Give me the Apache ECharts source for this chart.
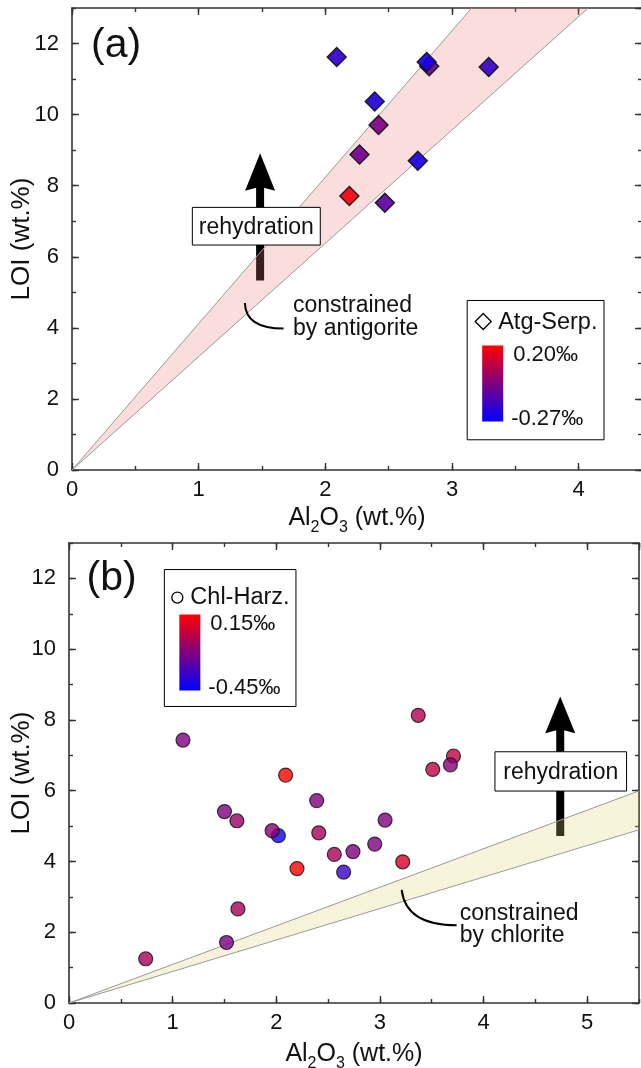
<!DOCTYPE html>
<html>
<head>
<meta charset="utf-8">
<script src="https://cdn.jsdelivr.net/npm/echarts@6/dist/echarts.min.js"></script>
<style>
html, body { margin: 0; padding: 0; background: #fff; }
#main { width: 641px; height: 1068px; }
</style>
</head>
<body>
<div id="main"></div>
<script>
var FONT = '"Liberation Sans", Arial, sans-serif';
var AXIS_COLOR = '#333';
var TEXT_COLOR = '#111';

// (a) Atg-serpentinites: Al2O3, LOI, delta (permil)
var atgAl = [2.09, 2.82, 2.80, 3.29, 2.39, 2.42, 2.27, 2.73, 2.19, 2.47];
var atgLoi = [11.62, 11.36, 11.48, 11.34, 10.37, 9.71, 8.88, 8.70, 7.71, 7.52];
var atgDelta = [-0.18, -0.08, -0.23, -0.17, -0.21, -0.04, -0.06, -0.22, 0.18, -0.10];

// (b) Chl-harzburgites
var chlAl = [0.74, 1.52, 1.63, 1.10, 3.37, 3.71, 3.68, 3.51, 2.09, 2.39, 1.50, 1.62, 3.05, 2.02, 1.96, 2.41, 2.95, 2.56, 2.74, 3.22, 2.20, 2.65];
var chlLoi = [1.25, 1.71, 2.66, 7.43, 8.13, 6.98, 6.73, 6.60, 6.44, 5.72, 5.41, 5.15, 5.17, 4.73, 4.87, 4.81, 4.49, 4.20, 4.28, 3.99, 3.80, 3.70];
var chlDelta = [-0.06, -0.16, -0.06, -0.15, -0.03, 0.0, -0.14, 0.0, 0.15, -0.15, -0.15, -0.09, -0.15, -0.42, -0.12, -0.06, -0.15, -0.05, -0.15, 0.06, 0.15, -0.32];

// colour scale ends (legend labels)
var atgRange = [-0.27, 0.20];
var chlRange = [-0.45, 0.15];
var atgRangeLabels = ['0.20‰', '-0.27‰'];
var chlRangeLabels = ['0.15‰', '-0.45‰'];

// mineral constraint lines (LOI / Al2O3 slopes)
var antigoriteSlopes = [4.12, 3.19];
var chloriteSlopes = [1.09, 0.89];

// axis ticks
var xTicksA = [0, 1, 2, 3, 4];
var xTicksB = [0, 1, 2, 3, 4, 5];
var yTicks = [0, 2, 4, 6, 8, 10, 12];
var xMaxA = 4.5, xMaxB = 5.5, yMax = 13;

var LOW_COLOR = '#0000ff', HIGH_COLOR = '#ff0000';

var chart = echarts.init(document.getElementById('main'));

function zip(a, b, c) {
    var out = [];
    for (var i = 0; i < a.length; i++) {
        out.push([a[i], b[i], c[i]]);
    }
    return out;
}

function axis(gi, pos, max, step, len, labels, line) {
    return {
        type: 'value', gridIndex: gi, position: pos, offset: 0,
        min: 0, max: max, interval: step,
        nameMoveOverlap: false,
        axisLine: {show: line, onZero: false, lineStyle: {color: AXIS_COLOR, width: 1.6}},
        axisTick: {show: true, inside: true, length: len, lineStyle: {color: AXIS_COLOR, width: 1.4}},
        axisLabel: {
            show: labels, fontSize: 22, color: TEXT_COLOR, fontFamily: FONT,
            margin: (pos === 'left' ? 13 : 9), showMaxLabel: false, showMinLabel: true
        },
        splitLine: {show: false}
    };
}

var alName = '{n|Al}{s|2}{n|O}{s|3}{n| (wt.%)}';
var alNameStyle = {
    rich: {
        n: {fontSize: 25, fontFamily: FONT, color: TEXT_COLOR, verticalAlign: 'top', lineHeight: 27},
        s: {fontSize: 16, fontFamily: FONT, color: TEXT_COLOR, verticalAlign: 'top', lineHeight: 16, padding: [14, 0, 0, 0]}
    }
};

// 4 x axes and 4 y axes per grid: major + minor on each side
function xAxes(gi, max, ticks, gap) {
    var step = ticks[1] - ticks[0];
    var bottom = axis(gi, 'bottom', max, step, 7, true, true);
    bottom.name = alName;
    bottom.nameLocation = 'middle';
    bottom.nameGap = gap;
    bottom.nameTextStyle = alNameStyle;
    return [
        bottom,
        axis(gi, 'bottom', max, step / 2, 4, false, false),
        axis(gi, 'top', max, step, 7, false, true),
        axis(gi, 'top', max, step / 2, 4, false, false)
    ];
}

function yAxes(gi, gap) {
    var step = yTicks[1] - yTicks[0];
    var left = axis(gi, 'left', yMax, step, 7, true, true);
    left.name = 'LOI (wt.%)';
    left.nameLocation = 'middle';
    left.nameGap = gap;
    left.nameTextStyle = {fontSize: 26, fontFamily: FONT, color: TEXT_COLOR};
    return [
        left,
        axis(gi, 'left', yMax, step / 2, 4, false, false),
        axis(gi, 'right', yMax, step, 7, false, true),
        axis(gi, 'right', yMax, step / 2, 4, false, false)
    ];
}

function band(gi, slopes, xMax, fill) {
    function edge(s) {
        return s * xMax > yMax ? [yMax / s, yMax] : [xMax, s * xMax];
    }
    var hi = edge(slopes[0]), lo = edge(slopes[1]);
    var poly = [[0, 0], hi];
    if (hi[1] === yMax && lo[0] === xMax) {
        poly.push([xMax, yMax]);
    }
    poly.push(lo);
    return {
        type: 'custom', xAxisIndex: gi * 4, yAxisIndex: gi * 4, z: 3, silent: true,
        clip: true, data: [0],
        renderItem: function (params, api) {
            var pts = poly.map(function (p) { return api.coord(p); });
            var o = api.coord([0, 0]);
            var h = api.coord(hi), l = api.coord(lo);
            return {
                type: 'group',
                children: [
                    {type: 'polygon', shape: {points: pts}, style: {fill: fill}},
                    {type: 'line', shape: {x1: o[0], y1: o[1], x2: h[0], y2: h[1]},
                        style: {stroke: '#9a9a9a', lineWidth: 1}},
                    {type: 'line', shape: {x1: o[0], y1: o[1], x2: l[0], y2: l[1]},
                        style: {stroke: '#9a9a9a', lineWidth: 1}}
                ]
            };
        }
    };
}

chart.setOption({
    animation: false,
    backgroundColor: '#fff',
    grid: [
        {left: 72, top: 8, width: 570, height: 462, containLabel: false, outerBoundsMode: 'none'},
        {left: 69, top: 543, width: 570, height: 460, containLabel: false, outerBoundsMode: 'none'}
    ],
    xAxis: xAxes(0, xMaxA, xTicksA, 36).concat(xAxes(1, xMaxB, xTicksB, 39)),
    yAxis: yAxes(0, 37).concat(yAxes(1, 34)),
    visualMap: [
        {type: 'continuous', show: false, seriesIndex: 2, dimension: 2,
            min: atgRange[0], max: atgRange[1], inRange: {color: [LOW_COLOR, HIGH_COLOR]}},
        {type: 'continuous', show: false, seriesIndex: 3, dimension: 2,
            min: chlRange[0], max: chlRange[1], inRange: {color: [LOW_COLOR, HIGH_COLOR]}}
    ],
    series: [
        band(0, antigoriteSlopes, xMaxA, 'rgba(235,120,120,0.25)'),
        band(1, chloriteSlopes, xMaxB, 'rgba(225,210,110,0.25)'),
        {
            type: 'scatter', xAxisIndex: 0, yAxisIndex: 0, z: 5,
            symbol: 'diamond', symbolSize: 19,
            itemStyle: {borderColor: '#111', borderWidth: 1.4, opacity: 0.92},
            data: zip(atgAl, atgLoi, atgDelta)
        },
        {
            type: 'scatter', xAxisIndex: 4, yAxisIndex: 4, z: 5,
            symbol: 'circle', symbolSize: 14,
            itemStyle: {borderColor: '#111', borderWidth: 1.2},
            data: zip(chlAl, chlLoi, chlDelta)
        }
    ]
});

function P(gi, x, y) {
    return chart.convertToPixel({xAxisIndex: gi * 4, yAxisIndex: gi * 4}, [x, y]);
}

function arrow(gi, x, tip, base, bottom) {
    var t = P(gi, x, tip), b = P(gi, x, base), e = P(gi, x, bottom);
    return [
        {type: 'rect', z: 2, silent: true,
            shape: {x: t[0] - 4, y: b[1] - 5, width: 8, height: e[1] - b[1] + 5}, style: {fill: '#000'}},
        {type: 'polygon', z: 2, silent: true,
            shape: {points: [[t[0], t[1]], [t[0] + 15, b[1]], [t[0], b[1] - 4], [t[0] - 15, b[1]]]},
            style: {fill: '#000'}}
    ];
}

function textBox(gi, x0, y0, x1, y1, txt) {
    var a = P(gi, x0, y0), b = P(gi, x1, y1);
    return [
        {type: 'rect', z: 10, silent: true,
            shape: {x: a[0], y: a[1], width: b[0] - a[0], height: b[1] - a[1]},
            style: {fill: '#fff', stroke: '#000', lineWidth: 1}},
        {type: 'text', z: 11, silent: true, x: (a[0] + b[0]) / 2, y: (a[1] + b[1]) / 2 + 1,
            style: {text: txt, fontSize: 23, fontFamily: FONT, fill: TEXT_COLOR, align: 'center', verticalAlign: 'middle'}}
    ];
}

function note(gi, x, y, txt) {
    var p = P(gi, x, y);
    return {type: 'text', z: 11, silent: true, x: p[0], y: p[1],
        style: {text: txt, fontSize: 23, lineHeight: 22.5, fontFamily: FONT, fill: TEXT_COLOR, align: 'left', verticalAlign: 'middle'}};
}

function curve(gi, p0, c, p1) {
    var a = P(gi, p0[0], p0[1]), m = P(gi, c[0], c[1]), b = P(gi, p1[0], p1[1]);
    return {type: 'bezierCurve', z: 11, silent: true,
        shape: {x1: a[0], y1: a[1], cpx1: m[0], cpy1: m[1], x2: b[0], y2: b[1]},
        style: {stroke: '#000', lineWidth: 2, fill: null}};
}

function panelLabel(gi, x, y, txt) {
    var p = P(gi, x, y);
    return {type: 'text', z: 11, silent: true, x: p[0], y: p[1],
        style: {text: txt, fontSize: 41, fontFamily: FONT, fill: TEXT_COLOR, align: 'left', verticalAlign: 'middle'}};
}

function legendBox(gi, x0, y0, x1, y1, marker, title, labels) {
    var a = P(gi, x0, y0), b = P(gi, x1, y1);
    var isDiamond = marker === 'diamond';
    var els = [
        {type: 'rect', z: 10, silent: true,
            shape: {x: a[0], y: a[1], width: b[0] - a[0], height: b[1] - a[1]},
            style: {fill: '#fff', stroke: '#000', lineWidth: 1}},
        {type: 'text', z: 11, silent: true, x: a[0] + (isDiamond ? 31 : 26), y: a[1] + (isDiamond ? 22 : 28),
            style: {text: title, fontSize: 23.5, fontFamily: FONT, fill: TEXT_COLOR, verticalAlign: 'middle'}},
        {type: 'rect', z: 11, silent: true,
            shape: {x: a[0] + 15, y: a[1] + 45, width: 21, height: 76},
            style: {fill: new echarts.graphic.LinearGradient(0, 0, 0, 1, [
                {offset: 0, color: HIGH_COLOR}, {offset: 1, color: LOW_COLOR}])}},
        {type: 'text', z: 11, silent: true, x: a[0] + 46, y: a[1] + 54,
            style: {text: labels[0], fontSize: 22, fontFamily: FONT, fill: TEXT_COLOR, verticalAlign: 'middle'}},
        {type: 'text', z: 11, silent: true, x: a[0] + 44, y: a[1] + 118,
            style: {text: labels[1], fontSize: 22, fontFamily: FONT, fill: TEXT_COLOR, verticalAlign: 'middle'}}
    ];
    if (isDiamond) {
        els.push({type: 'polygon', z: 11, silent: true,
            shape: {points: [[a[0] + 16, a[1] + 13], [a[0] + 24, a[1] + 21], [a[0] + 16, a[1] + 29], [a[0] + 8, a[1] + 21]]},
            style: {fill: '#fff', stroke: '#000', lineWidth: 1.3}});
    } else {
        els.push({type: 'circle', z: 11, silent: true,
            shape: {cx: a[0] + 13, cy: a[1] + 28, r: 5.5},
            style: {fill: '#fff', stroke: '#000', lineWidth: 1.3}});
    }
    return els;
}

var graphics = []
    .concat(arrow(0, 1.485, 8.91, 7.86, 5.33))
    .concat(textBox(0, 0.95, 7.39, 1.96, 6.33, 'rehydration'))
    .concat([note(0, 1.745, 4.30, 'constrained\nby antigorite')])
    .concat([curve(0, [1.365, 4.70], [1.37, 3.98], [1.67, 3.98])])
    .concat([panelLabel(0, 0.15, 11.95, '(a)')])
    .concat(legendBox(0, 3.12, 4.77, 4.20, 0.85, 'diamond', 'Atg-Serp.', atgRangeLabels))
    .concat(arrow(1, 4.74, 8.66, 7.62, 4.72))
    .concat(textBox(1, 4.11, 7.10, 5.38, 5.99, 'rehydration'))
    .concat([note(1, 3.77, 2.22, 'constrained\nby chlorite')])
    .concat([curve(1, [3.21, 3.20], [3.25, 2.20], [3.74, 2.20])])
    .concat([panelLabel(1, 0.17, 12.0, '(b)')])
    .concat(legendBox(1, 0.92, 12.25, 2.19, 8.38, 'circle', 'Chl-Harz.', chlRangeLabels));

chart.setOption({graphic: {elements: graphics}});
</script>
</body>
</html>
